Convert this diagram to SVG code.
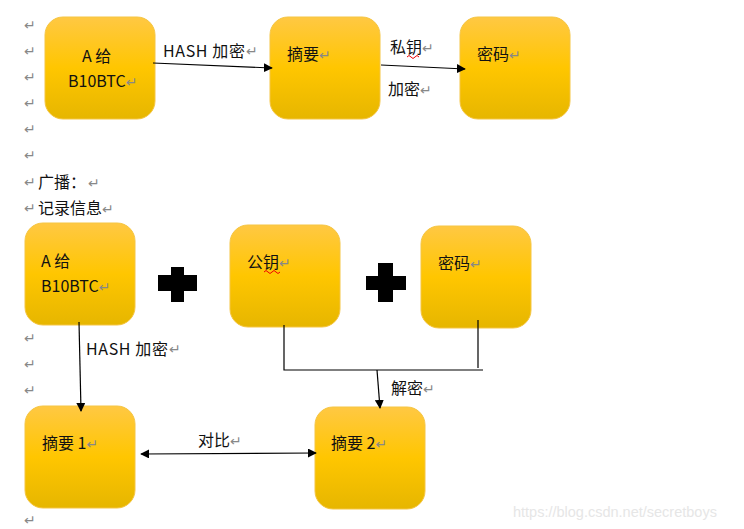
<svg xmlns="http://www.w3.org/2000/svg" width="744" height="529" viewBox="0 0 744 529">
<defs>
<linearGradient id="g" x1="0" y1="0" x2="0" y2="1">
<stop offset="0" stop-color="#ffc843"/>
<stop offset="0.5" stop-color="#ffc600"/>
<stop offset="1" stop-color="#e6b600"/>
</linearGradient>
<marker id="ah" viewBox="0 0 10 10" refX="9" refY="5" markerWidth="9" markerHeight="9" markerUnits="userSpaceOnUse" orient="auto-start-reverse">
<path d="M0,0 L10,5 L0,10 z" fill="#000"/>
</marker>
</defs>
<style>
.box{fill:url(#g);stroke:#f5c542;stroke-width:1}
.t{font-family:"Noto Sans CJK SC","Liberation Sans",sans-serif;font-size:16px;fill:#111}
.r{font-family:"DejaVu Sans",sans-serif;font-size:14px;fill:#888}
.ln{stroke:#000;stroke-width:1.2;fill:none}
.plus{fill:#000}
.wm{font-family:"Liberation Sans",sans-serif;font-size:14.5px;fill:#e6e6e6}
</style>
<rect width="744" height="529" fill="#fff"/>
<g id="margin-returns">
<text class="r" x="24" y="30">↵</text>
<text class="r" x="24" y="56">↵</text>
<text class="r" x="24" y="82">↵</text>
<text class="r" x="24" y="108">↵</text>
<text class="r" x="24" y="134">↵</text>
<text class="r" x="24" y="160">↵</text>
<text class="r" x="24" y="187">↵</text>
<text class="r" x="24" y="213">↵</text>
<text class="r" x="24" y="343">↵</text>
<text class="r" x="24" y="369">↵</text>
<text class="r" x="24" y="395">↵</text>
<text class="r" x="24" y="525">↵</text>
</g>
<g id="heading">
<text class="t" x="38" y="188">广播：<tspan class="r" dx="2">↵</tspan></text>
<text class="t" x="38" y="214">记录信息<tspan class="r">↵</tspan></text>
</g>
<g id="n1">
<rect class="box" x="45" y="17" width="110" height="102" rx="18"/>
<text class="t" x="82" y="62">A 给</text>
<text class="t" x="68" y="87">B10BTC<tspan class="r">↵</tspan></text>
</g>
<g id="n2">
<rect class="box" x="270" y="17" width="110" height="102" rx="18"/>
<text class="t" x="287" y="60">摘要<tspan class="r">↵</tspan></text>
</g>
<g id="n3">
<rect class="box" x="460" y="17" width="110" height="102" rx="18"/>
<text class="t" x="477" y="60">密码<tspan class="r">↵</tspan></text>
</g>
<g id="n4">
<rect class="box" x="25" y="223" width="110" height="102" rx="18"/>
<text class="t" x="41" y="267">A 给</text>
<text class="t" x="41" y="292">B10BTC<tspan class="r">↵</tspan></text>
</g>
<g id="plus1"><path class="plus" d="M171,267 h13 v8 h13 v16 h-13 v11 h-13 v-11 h-13 v-16 h13 z"/></g>
<g id="n5">
<rect class="box" x="230" y="225" width="110" height="102" rx="18"/>
<text class="t" x="247" y="268">公钥<tspan class="r">↵</tspan></text>
<path d="M264,272 q2,-3 4,0 t4,0 t4,0 t4,0" stroke="#e00" stroke-width="1" fill="none"/>
</g>
<g id="plus2"><path class="plus" d="M378,263 h15 v13 h13 v14 h-13 v12 h-15 v-12 h-12 v-14 h12 z"/></g>
<g id="n6">
<rect class="box" x="421" y="226" width="110" height="102" rx="18"/>
<text class="t" x="438" y="269">密码<tspan class="r">↵</tspan></text>
</g>
<g id="n7">
<rect class="box" x="25" y="406" width="110" height="102" rx="18"/>
<text class="t" x="42" y="449">摘要 1<tspan class="r">↵</tspan></text>
</g>
<g id="n8">
<rect class="box" x="315" y="407" width="110" height="102" rx="18"/>
<text class="t" x="331" y="449">摘要 2<tspan class="r">↵</tspan></text>
</g>
<g id="connectors">
<line class="ln" x1="153" y1="63" x2="272" y2="68" marker-end="url(#ah)"/>
<line class="ln" x1="381" y1="65" x2="465" y2="69" marker-end="url(#ah)"/>
<line class="ln" x1="79" y1="322" x2="81" y2="411" marker-end="url(#ah)"/>
<path class="ln" d="M284,325 V370 H483 M478,320 V368"/>
<line class="ln" x1="377" y1="370" x2="380" y2="408" marker-end="url(#ah)"/>
<line class="ln" x1="141" y1="454" x2="316" y2="453" marker-start="url(#ah)" marker-end="url(#ah)"/>
</g>
<g id="labels">
<text class="t" x="163" y="57" textLength="82">HASH 加密</text><text class="r" x="246" y="56">↵</text>
<text class="t" x="390" y="53">私钥<tspan class="r">↵</tspan></text>
<path d="M407,57 q2,-3 4,0 t4,0 t4,0" stroke="#e00" stroke-width="1" fill="none"/>
<text class="t" x="388" y="95">加密<tspan class="r">↵</tspan></text>
<text class="t" x="86" y="355" textLength="82">HASH 加密</text><text class="r" x="169" y="354">↵</text>
<text class="t" x="391" y="394">解密<tspan class="r">↵</tspan></text>
<text class="t" x="198" y="446">对比<tspan class="r">↵</tspan></text>
</g>
<text class="wm" x="513" y="517">https://blog.csdn.net/secretboys</text>
</svg>
